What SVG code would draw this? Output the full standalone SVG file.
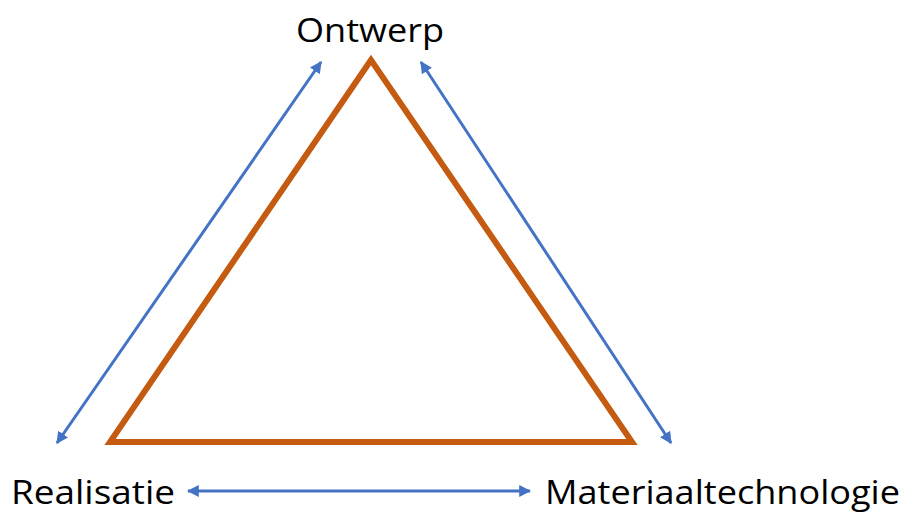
<svg xmlns="http://www.w3.org/2000/svg" width="905" height="514" viewBox="0 0 905 514">
<style>
.lbl{font-family:"Open Sans","Liberation Sans",sans-serif;font-size:33px;fill:#000}
.con{stroke:#4472C4;stroke-width:3;fill:none;marker-start:url(#ah);marker-end:url(#ah)}
</style>
<defs>
<marker id="ah" viewBox="0 0 10 10" refX="9" refY="5" markerWidth="4" markerHeight="4" orient="auto-start-reverse" markerUnits="strokeWidth">
<path d="M0,0 L10,5 L0,10 Z" fill="#4472C4"/>
</marker>
</defs>
<rect width="905" height="514" fill="#fff"/>
<g id="triangle">
<polygon points="371,60 110,442 632,442" fill="none" stroke="#C55A11" stroke-width="6"/>
</g>
<g id="connectors">
<line class="con" x1="321" y1="62" x2="57" y2="443"/>
<line class="con" x1="421" y1="62" x2="671" y2="443"/>
<line class="con" x1="188" y1="491" x2="530" y2="491"/>
</g>
<g id="ontwerp"><text class="lbl" x="296" y="42" textLength="148" lengthAdjust="spacingAndGlyphs">Ontwerp</text></g>
<g id="realisatie"><text class="lbl" x="11" y="504" textLength="164" lengthAdjust="spacingAndGlyphs">Realisatie</text></g>
<g id="materiaaltechnologie"><text class="lbl" x="545" y="504" textLength="355" lengthAdjust="spacingAndGlyphs">Materiaaltechnologie</text></g>
</svg>
